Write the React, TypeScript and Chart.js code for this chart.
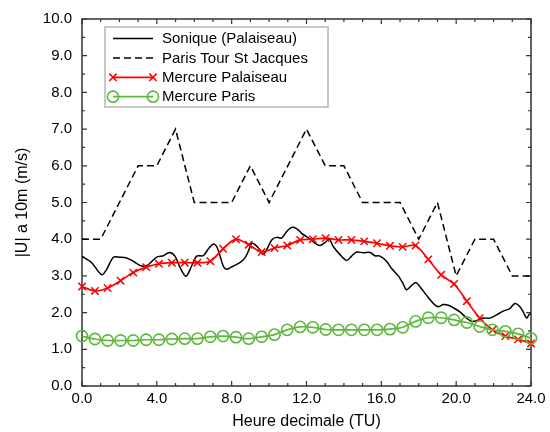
import React, { useEffect, useRef } from "react";
import { Chart, registerables } from "chart.js";

Chart.register(...registerables);

// ---- Data ----
const soniqueHours = [
  0, 0.52, 1.05, 1.32, 1.68, 2.03, 2.39, 2.74, 3.19, 3.55, 3.99, 4.35, 4.67, 4.97, 5.24, 5.56, 5.86,
  6.13, 6.48, 6.75, 7.02, 7.2, 7.38, 7.55, 7.73, 8.09, 8.44, 8.71, 8.89, 9.07, 9.25, 9.51, 9.69,
  9.87, 10.14, 10.4, 10.67, 10.94, 11.2, 11.47, 11.74, 12.0, 12.25, 12.45, 12.72, 12.99, 13.22,
  13.43, 13.79, 14.15, 14.41, 14.68, 15.04, 15.39, 15.66, 15.93, 16.28, 16.55, 16.91, 17.17,
  17.35, 17.62, 17.85, 18.07, 18.42, 18.78, 19.04, 19.31, 19.58, 19.85, 20.2, 20.56, 20.83,
  21.1, 21.45, 21.8, 22.16, 22.52, 22.87, 23.14, 23.41, 23.62, 23.77, 23.9, 24.0,
];
const soniqueValues = [
  3.54, 3.36, 3.03, 3.18, 3.51, 3.51, 3.49, 3.4, 3.27, 3.31, 3.51, 3.55, 3.64, 3.54, 3.23, 2.99, 3.27,
  3.54, 3.55, 3.73, 3.87, 3.8, 3.54, 3.27, 3.18, 3.27, 3.36, 3.49, 3.67, 3.89, 3.85, 3.71, 3.58,
  3.71, 3.98, 4.05, 4.03, 4.21, 4.32, 4.29, 4.16, 4.07, 3.98, 3.89, 3.83, 3.91, 4.0,
  3.8, 3.58, 3.42, 3.54, 3.65, 3.63, 3.64, 3.55, 3.54, 3.4, 3.2, 3.0, 2.78,
  2.62, 2.74, 2.82, 2.7, 2.47, 2.25, 2.16, 2.22, 2.2, 2.13, 2.02, 1.85, 1.76,
  1.78, 1.85, 1.85, 1.94, 2.04, 2.11, 2.25, 2.16, 1.98, 1.85, 1.95, 1.97,
];

const parisHours = [0, 1, 2, 3, 4, 5, 6, 7, 8, 9, 10, 11, 12, 13, 14, 15, 16, 17, 18, 19, 20, 21, 22, 23, 24];
const parisValues = [4, 4, 5, 6, 6, 7, 5, 5, 5, 6, 5, 6, 7, 6, 6, 5, 5, 5, 4, 5, 3, 4, 4, 3, 3];

const mercureHours = [
  0, 0.69, 1.37, 2.06, 2.74, 3.43, 4.11, 4.8, 5.49, 6.17, 6.86, 7.54, 8.23, 8.91, 9.6, 10.29, 10.97,
  11.66, 12.34, 13.03, 13.71, 14.4, 15.09, 15.77, 16.46, 17.14, 17.83, 18.51, 19.2, 19.89, 20.57,
  21.26, 21.94, 22.63, 23.31, 24.0,
];
const mercurePalaiseauValues = [
  2.71, 2.59, 2.67, 2.87, 3.09, 3.24, 3.33, 3.36, 3.36, 3.36, 3.4, 3.74, 4.0, 3.85, 3.65, 3.76, 3.83,
  3.98, 4.0, 4.03, 3.98, 3.98, 3.94, 3.89, 3.82, 3.79, 3.83, 3.45, 3.03, 2.78, 2.31,
  1.85, 1.53, 1.36, 1.27, 1.16,
];
const mercureParisValues = [
  1.36, 1.28, 1.24, 1.24, 1.24, 1.26, 1.26, 1.28, 1.29, 1.29, 1.34, 1.36, 1.33, 1.29, 1.34, 1.4, 1.53,
  1.61, 1.6, 1.54, 1.53, 1.53, 1.53, 1.53, 1.55, 1.6, 1.76, 1.86, 1.86, 1.8, 1.73,
  1.62, 1.53, 1.49, 1.42, 1.3,
];

const seriesLabels = ["Sonique (Palaiseau)", "Paris Tour St Jacques", "Mercure Palaiseau", "Mercure Paris"];
const xTickStep = 4;
const yTickStep = 1;

const FONT = "'Liberation Sans', Arial, Helvetica, sans-serif";

const toPts = (xs: number[], ys: number[]) => xs.map((x, i) => ({ x, y: ys[i] }));

const framePlugin = {
  id: "frameTicks",
  beforeDatasetsDraw(chart: any) {
    const { ctx, chartArea } = chart;
    const { left, right, top, bottom } = chartArea;
    const xs = chart.scales.x;
    const ys = chart.scales.y;
    ctx.save();
    ctx.strokeStyle = "#333";
    ctx.lineWidth = 1.5;
    ctx.setLineDash([]);
    ctx.strokeRect(left, top, right - left, bottom - top);
    ctx.lineWidth = 1.2;
    ctx.beginPath();
    for (let h = 0; h <= 24; h += 1) {
      const px = xs.getPixelForValue(h);
      const len = h % 4 === 0 ? 5 : 3;
      ctx.moveTo(px, bottom);
      ctx.lineTo(px, bottom - len);
      ctx.moveTo(px, top);
      ctx.lineTo(px, top + len);
    }
    for (let v = 0; v <= 10; v += 0.5) {
      const py = ys.getPixelForValue(v);
      const len = Number.isInteger(v) ? 5 : 3;
      ctx.moveTo(left, py);
      ctx.lineTo(left + len, py);
      ctx.moveTo(right, py);
      ctx.lineTo(right - len, py);
    }
    ctx.stroke();
    ctx.restore();
  },
};

const legendPlugin = {
  id: "boxLegend",
  afterDraw(chart: any) {
    const ctx = chart.ctx;
    const bx = 105, by = 27, bw = 223, bh = 80;
    ctx.save();
    ctx.fillStyle = "#ffffff";
    ctx.fillRect(bx, by, bw, bh);
    ctx.strokeStyle = "#c8c8c8";
    ctx.lineWidth = 2;
    ctx.setLineDash([]);
    ctx.strokeRect(bx, by, bw, bh);
    ctx.font = `15px ${FONT}`;
    ctx.textBaseline = "middle";
    ctx.textAlign = "left";
    const x1 = 113, x2 = 153;
    chart.data.datasets.forEach((ds: any, i: number) => {
      const y = by + 11.5 + i * 19.4;
      ctx.strokeStyle = ds.borderColor;
      ctx.lineWidth = ds.borderWidth;
      ctx.setLineDash(ds.borderDash || []);
      ctx.beginPath();
      ctx.moveTo(x1, y);
      ctx.lineTo(x2, y);
      ctx.stroke();
      ctx.setLineDash([]);
      if (ds.pointRadius > 0) {
        ctx.strokeStyle = ds.pointBorderColor;
        ctx.lineWidth = ds.pointBorderWidth;
        [x1, x2].forEach((px) => {
          ctx.beginPath();
          if (ds.pointStyle === "crossRot") {
            const r = ds.pointRadius * Math.SQRT1_2;
            ctx.moveTo(px - r, y - r);
            ctx.lineTo(px + r, y + r);
            ctx.moveTo(px - r, y + r);
            ctx.lineTo(px + r, y - r);
          } else {
            ctx.arc(px, y, ds.pointRadius, 0, Math.PI * 2);
          }
          ctx.stroke();
        });
      }
      ctx.fillStyle = "#000";
      ctx.fillText(ds.label, 162, y + 0.5);
    });
    ctx.restore();
  },
};

export default function App() {
  const ref = useRef<HTMLCanvasElement | null>(null);
  useEffect(() => {
    document.body.style.margin = "0";
    if (!ref.current) return;
    const chart = new Chart(ref.current, {
      type: "line",
      data: {
        datasets: [
          {
            label: seriesLabels[0],
            data: toPts(soniqueHours, soniqueValues),
            borderColor: "#000000",
            borderWidth: 1.5,
            pointRadius: 0,
            tension: 0.3,
            order: 3,
            clip: false,
          },
          {
            label: seriesLabels[1],
            data: toPts(parisHours, parisValues),
            borderColor: "#000000",
            borderWidth: 1.5,
            borderDash: [7, 4],
            pointRadius: 0,
            tension: 0,
            order: 2,
            clip: false,
          },
          {
            label: seriesLabels[2],
            data: toPts(mercureHours, mercurePalaiseauValues),
            borderColor: "#ff0000",
            borderWidth: 1.7,
            pointStyle: "crossRot",
            pointRadius: 5.2,
            pointBorderColor: "#ff0000",
            pointBorderWidth: 1.5,
            pointBackgroundColor: "#ff0000",
            tension: 0.3,
            order: 1,
            clip: false,
          },
          {
            label: seriesLabels[3],
            data: toPts(mercureHours, mercureParisValues),
            borderColor: "#5cb83c",
            borderWidth: 1.7,
            pointStyle: "circle",
            pointRadius: 5.6,
            pointBorderColor: "#5cb83c",
            pointBorderWidth: 1.6,
            pointBackgroundColor: "rgba(0,0,0,0)",
            tension: 0.3,
            order: 0,
            clip: false,
          },
        ] as any,
      },
      options: {
        animation: false,
        responsive: false,
        devicePixelRatio: 1,
        layout: { padding: { top: 11, right: 19, left: 0, bottom: 0 } },
        plugins: { legend: { display: false }, tooltip: { enabled: false } },
        scales: {
          x: {
            type: "linear",
            min: 0,
            max: 24,
            grid: { display: false, drawTicks: false },
            border: { display: false },
            ticks: {
              stepSize: xTickStep,
              padding: 4,
              color: "#000",
              font: { family: FONT, size: 15 },
              callback: (v: any) => Number(v).toFixed(1),
              maxRotation: 0,
            },
            title: {
              display: true,
              text: "Heure decimale (TU)",
              color: "#000",
              font: { family: FONT, size: 16 },
              padding: { top: 0, bottom: 1 },
            },
            afterFit: (s: any) => {
              s.height = 46;
            },
          },
          y: {
            type: "linear",
            min: 0,
            max: 10,
            grid: { display: false, drawTicks: false },
            border: { display: false },
            ticks: {
              stepSize: yTickStep,
              padding: 10,
              color: "#000",
              font: { family: FONT, size: 15 },
              callback: (v: any) => Number(v).toFixed(1),
            },
            title: {
              display: true,
              text: "|U| a 10m (m/s)",
              color: "#000",
              font: { family: FONT, size: 16 },
              padding: { top: 13, bottom: 0 },
            },
            afterFit: (s: any) => {
              s.width = 82;
            },
          },
        },
      },
      plugins: [framePlugin, legendPlugin],
    });
    return () => chart.destroy();
  }, []);
  return (
    <div style={{ position: "absolute", left: 0, top: 0, width: 550, height: 432, background: "#fff" }}>
      <canvas ref={ref} width={550} height={432} style={{ display: "block" }} />
    </div>
  );
}
